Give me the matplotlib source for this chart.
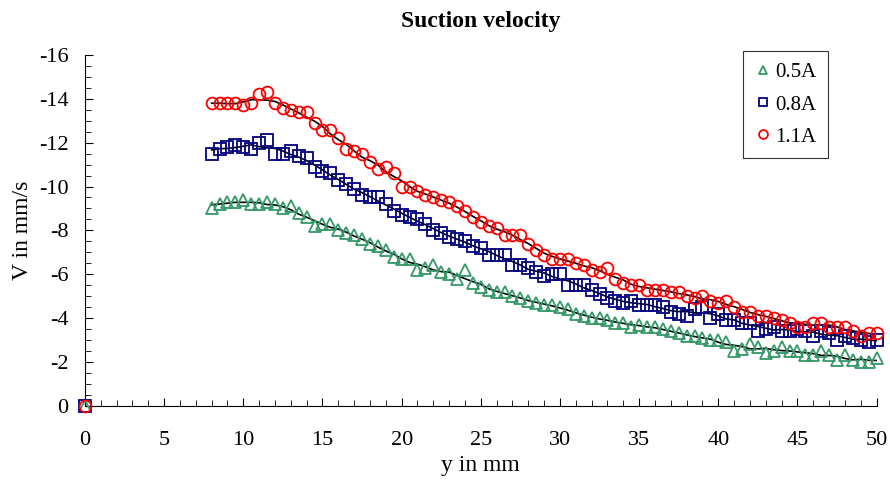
import numpy as np
import pandas as pd
import matplotlib.pyplot as plt
from matplotlib.ticker import MultipleLocator

plt.rcParams['font.family'] = ['Liberation Serif', 'DejaVu Serif']
plt.rcParams['axes.unicode_minus'] = False

# y positions in mm (0 plus 8..50 step 0.5)
y_mm = [0.0] + [8 + 0.5 * i for i in range(85)]

v_05 = [0.0,
        -9.0, -9.2, -9.3, -9.3, -9.4, -9.2, -9.2, -9.3, -9.2, -9.0,
        -9.1, -8.8, -8.6, -8.2, -8.3, -8.3, -8.0, -7.9, -7.8, -7.6,
        -7.4, -7.3, -7.1, -6.8, -6.7, -6.7, -6.2, -6.3, -6.4, -6.1,
        -6.0, -5.8, -6.2, -5.6, -5.4, -5.3, -5.2, -5.2, -5.0, -4.9,
        -4.8, -4.7, -4.6, -4.6, -4.5, -4.4, -4.2, -4.1, -4.0, -4.0,
        -3.9, -3.8, -3.8, -3.6, -3.7, -3.6, -3.6, -3.5, -3.4, -3.3,
        -3.2, -3.2, -3.1, -3.0, -3.0, -2.9, -2.5, -2.6, -2.8, -2.7,
        -2.4, -2.5, -2.7, -2.5, -2.5, -2.3, -2.3, -2.5, -2.3, -2.1,
        -2.3, -2.1, -2.0, -2.0, -2.2]

v_08 = [0.0,
        -11.5, -11.7, -11.8, -11.9, -11.8, -11.7, -12.0, -12.1, -11.5, -11.5,
        -11.6, -11.4, -11.3, -10.9, -10.7, -10.6, -10.3, -10.1, -9.9, -9.6,
        -9.5, -9.5, -9.2, -8.9, -8.7, -8.6, -8.5, -8.3, -8.0, -7.9,
        -7.7, -7.6, -7.5, -7.3, -7.2, -6.9, -6.9, -6.9, -6.4, -6.4,
        -6.3, -6.1, -5.9, -6.0, -6.0, -5.5, -5.5, -5.5, -5.3, -5.1,
        -4.9, -4.8, -4.7, -4.8, -4.6, -4.6, -4.6, -4.5, -4.3, -4.2,
        -4.1, -4.4, -4.5, -4.0, -4.2, -3.9, -3.9, -3.8, -3.8, -3.4,
        -3.5, -3.6, -3.4, -3.4, -3.5, -3.4, -3.2, -3.4, -3.3, -3.0,
        -3.2, -3.1, -3.0, -2.9, -3.0]

v_11 = [0.0,
        -13.8, -13.8, -13.8, -13.8, -13.7, -13.8, -14.2, -14.3, -13.8, -13.6,
        -13.5, -13.4, -13.4, -12.9, -12.6, -12.6, -12.2, -11.7, -11.6, -11.5,
        -11.1, -10.8, -10.9, -10.6, -10.0, -10.0, -9.8, -9.6, -9.5, -9.4,
        -9.3, -9.1, -8.9, -8.6, -8.4, -8.2, -8.1, -7.8, -7.8, -7.8,
        -7.4, -7.1, -6.9, -6.7, -6.7, -6.7, -6.5, -6.4, -6.2, -6.1,
        -6.3, -5.8, -5.6, -5.5, -5.5, -5.3, -5.3, -5.3, -5.2, -5.2,
        -5.0, -4.9, -5.0, -4.8, -4.7, -4.8, -4.5, -4.3, -4.3, -4.1,
        -4.1, -4.0, -3.9, -3.8, -3.6, -3.6, -3.8, -3.8, -3.6, -3.6,
        -3.6, -3.4, -3.2, -3.3, -3.3]

labels = ['0.5A', '0.8A', '1.1A']
colors = ['#339966', '#000080', '#FF0000']
markers = ['^', 's', 'o']

fig, ax = plt.subplots(figsize=(8.9, 4.82), dpi=100)
fig.subplots_adjust(left=0.0955, right=0.985, bottom=0.158, top=0.886)

for v, lab, c, m in zip([v_05, v_08, v_11], labels, colors, markers):
    ax.plot(y_mm, v, linestyle='none', marker=m, markersize=8.5,
            markerfacecolor='none', markeredgecolor=c, markeredgewidth=1.3,
            label=lab, clip_on=False, zorder=3)
    # moving-average trend line over the measured range
    s = pd.Series(v[1:]).rolling(5, center=True, min_periods=1).mean()
    ax.plot(y_mm[1:], s, color='black', linewidth=1.2, zorder=2)

ax.set_xlim(0, 50)
ax.set_ylim(0, -16)
ax.xaxis.set_major_locator(MultipleLocator(5))
ax.xaxis.set_minor_locator(MultipleLocator(1))
ax.yaxis.set_major_locator(MultipleLocator(2))
ax.yaxis.set_minor_locator(MultipleLocator(0.5))
ax.tick_params(which='both', direction='in', labelsize=16)
ax.tick_params(axis='x', pad=18)
ax.tick_params(axis='y', pad=12)
ax.tick_params(which='major', length=6)
ax.tick_params(which='minor', length=4)
ax.spines['top'].set_visible(False)
ax.spines['right'].set_visible(False)

ax.set_xlabel('y in mm', fontsize=17, labelpad=4)
ax.set_ylabel('V in mm/s', fontsize=17, labelpad=4)
ax.set_title('Suction velocity', fontsize=17, fontweight='bold', pad=20)

leg = ax.legend(loc='upper right', bbox_to_anchor=(0.938, 1.01), fontsize=15,
                markerscale=0.75, handletextpad=0.1, handlelength=0.9,
                labelspacing=0.6, frameon=True, fancybox=False,
                borderpad=0.55, borderaxespad=0)
leg.get_frame().set_edgecolor('black')
leg.get_frame().set_linewidth(0.8)

fig.savefig('out.png', dpi=100)
